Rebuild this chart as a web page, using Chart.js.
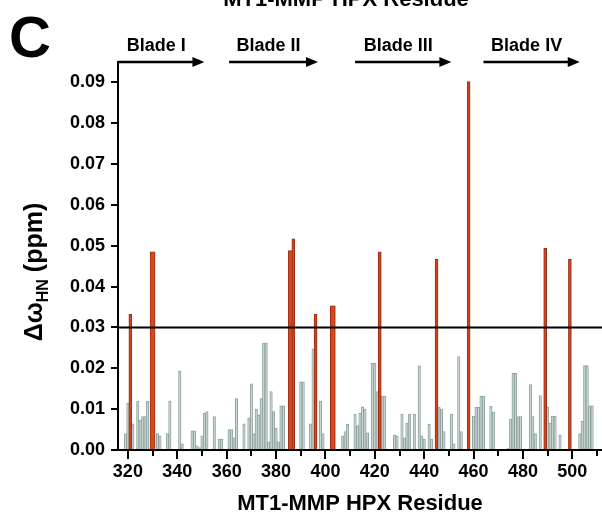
<!DOCTYPE html>
<html>
<head>
<meta charset="utf-8">
<script src="https://cdn.jsdelivr.net/npm/chart.js@4.4.0/dist/chart.umd.min.js"></script>
<style>
  html, body { margin: 0; padding: 0; background: #fff; }
</style>
</head>
<body>
<canvas id="myChart" width="602" height="523"></canvas>
<script>
// grey bars: residue number and shift (ppm)
const greyResidues = [319, 320, 322, 324, 325, 326, 327, 328, 332, 333, 336, 337, 341, 342, 346, 347, 348, 349, 350, 351, 352, 355, 357, 358,
    361, 362, 363, 364, 367, 369, 370, 371, 372, 373, 374, 375, 376, 377, 378, 379, 380, 381, 382, 383, 390, 391, 394, 395, 398, 399,
    407, 408, 409, 412, 413, 414, 415, 416, 417, 419, 420, 421, 423, 424, 428, 429, 431, 432, 433, 434, 436, 438, 439, 440, 442, 443,
    446, 447, 448, 451, 452, 454, 455, 460, 461, 462, 463, 464, 467, 468, 474, 475, 476, 477, 478, 479, 483, 484, 485, 487,
    490, 491, 492, 493, 495, 503, 504, 505, 506, 507, 508];
const greyShifts = [0.0040, 0.0115, 0.0064, 0.0120, 0.0073, 0.0082, 0.0082, 0.0120, 0.0040, 0.0035, 0.0040, 0.0120, 0.0194, 0.0015, 0.0047, 0.0047, 0.0010, 0.0006, 0.0035, 0.0090, 0.0094, 0.0082, 0.0027, 0.0027,
    0.0050, 0.0050, 0.0030, 0.0126, 0.0064, 0.0078, 0.0162, 0.0040, 0.0100, 0.0086, 0.0126, 0.0262, 0.0262, 0.0020, 0.0143, 0.0094, 0.0053, 0.0020, 0.0108, 0.0108, 0.0167, 0.0167, 0.0064, 0.0248, 0.0120, 0.0040,
    0.0035, 0.0045, 0.0063, 0.0088, 0.0060, 0.0090, 0.0106, 0.0100, 0.0042, 0.0212, 0.0212, 0.0143, 0.0132, 0.0132, 0.0037, 0.0035, 0.0088, 0.0030, 0.0065, 0.0088, 0.0088, 0.0206, 0.0035, 0.0027, 0.0063, 0.0027,
    0.0105, 0.0100, 0.0045, 0.0088, 0.0015, 0.0229, 0.0045, 0.0083, 0.0105, 0.0105, 0.0132, 0.0132, 0.0107, 0.0093, 0.0005, 0.0076, 0.0188, 0.0188, 0.0082, 0.0082, 0.0160, 0.0082, 0.0040, 0.0133,
    0.0106, 0.0065, 0.0083, 0.0083, 0.0037, 0.0040, 0.0070, 0.0207, 0.0207, 0.0108, 0.0108];

// red bars above the cutoff
const redThinResidues = [321, 387, 396, 422, 445, 458, 489, 499];
const redThinShifts = [0.0332, 0.0517, 0.0332, 0.0485, 0.0467, 0.0902, 0.0494, 0.0467];
const redWideResidues = [330, 386, 403];
const redWideShifts = [0.0485, 0.0488, 0.0353];

const cutoff = 0.03;
const xMin = 316, xMax = 512;
const xTicks = [320, 330, 340, 350, 360, 370, 380, 390, 400, 410, 420, 430, 440, 450, 460, 470, 480, 490, 500, 510];
const yTicks = [0, 0.01, 0.02, 0.03, 0.04, 0.05, 0.06, 0.07, 0.08, 0.09];

const bladeLabels = ['Blade I', 'Blade II', 'Blade III', 'Blade IV'];
const bladeStart = [316, 361, 412, 464];
const bladeEnd = [351, 397, 451, 503];

const FONT = 'Arial, "Liberation Sans", sans-serif';

function points(xs, ys) {
    return xs.map((x, i) => ({ x: x, y: ys[i] }));
}

// panel letter, blade arrows, axis title with subscript
const decorations = {
    id: 'decorations',
    afterDraw(chart) {
        const ctx = chart.ctx;
        const xs = chart.scales.x;
        const top = chart.chartArea.top;
        ctx.save();
        ctx.fillStyle = '#000';
        ctx.strokeStyle = '#000';

        // cut-off heading at the very top
        ctx.font = 'bold 22px ' + FONT;
        ctx.textAlign = 'center';
        ctx.textBaseline = 'alphabetic';
        ctx.fillText('MT1-MMP HPX Residue', 346, 6);

        ctx.font = 'bold 58px ' + FONT;
        ctx.textAlign = 'left';
        ctx.fillText('C', 9, 57);

        ctx.font = 'bold 18px ' + FONT;
        ctx.textAlign = 'center';
        ctx.lineWidth = 2.5;
        bladeLabels.forEach((lab, i) => {
            const x1 = xs.getPixelForValue(bladeStart[i]);
            const x2 = xs.getPixelForValue(bladeEnd[i]);
            ctx.fillText(lab, (x1 + x2) / 2 - 5, 51);
            ctx.beginPath();
            ctx.moveTo(x1, top);
            ctx.lineTo(x2 - 8, top);
            ctx.stroke();
            ctx.beginPath();
            ctx.moveTo(x2, top);
            ctx.lineTo(x2 - 12, top - 5);
            ctx.lineTo(x2 - 12, top + 5);
            ctx.closePath();
            ctx.fill();
        });

        // y title: Δω_HN (ppm)
        ctx.translate(34, 272);
        ctx.rotate(-Math.PI / 2);
        ctx.textAlign = 'left';
        const big = 'bold 25px ' + FONT, small = 'bold 16px ' + FONT;
        ctx.font = big;
        const w1 = ctx.measureText('\u0394\u03c9').width;
        const w3 = ctx.measureText(' (ppm)').width;
        ctx.font = small;
        const w2 = ctx.measureText('HN').width;
        let x = -(w1 + w2 + w3) / 2;
        ctx.font = big;
        ctx.fillText('\u0394\u03c9', x, 8);
        x += w1;
        ctx.font = small;
        ctx.fillText('HN', x, 14);
        x += w2;
        ctx.font = big;
        ctx.fillText(' (ppm)', x, 8);
        ctx.restore();
    }
};

const axisGrid = {
    display: true,
    drawOnChartArea: false,
    drawTicks: true,
    color: '#000',
    lineWidth: 2
};

new Chart(document.getElementById('myChart'), {
    type: 'bar',
    data: {
        datasets: [
            {
                type: 'line',
                data: [{ x: xMin, y: cutoff }, { x: xMax, y: cutoff }],
                borderColor: '#000',
                borderWidth: 2,
                pointRadius: 0,
                order: 0
            },
            {
                data: points(redThinResidues, redThinShifts),
                backgroundColor: '#cf4520',
                borderColor: '#9c2f16',
                borderWidth: 1,
                barThickness: 3,
                grouped: false,
                order: 1
            },
            {
                data: points(redWideResidues, redWideShifts),
                backgroundColor: '#d9491c',
                borderColor: '#9c2f16',
                borderWidth: 1,
                barThickness: 5,
                grouped: false,
                order: 2
            },
            {
                data: points(greyResidues, greyShifts),
                backgroundColor: '#c9d7d4',
                borderColor: '#8fa3a0',
                borderWidth: 1,
                barPercentage: 1,
                categoryPercentage: 1,
                grouped: false,
                order: 3
            }
        ]
    },
    options: {
        responsive: false,
        animation: false,
        devicePixelRatio: 1,
        layout: { padding: { top: 62, left: 0, right: 0, bottom: 0 } },
        plugins: {
            legend: { display: false },
            tooltip: { enabled: false }
        },
        scales: {
            x: {
                type: 'linear',
                min: xMin,
                max: xMax,
                offset: false,
                z: 1,
                afterFit: s => { s.height = 73; },
                afterBuildTicks: s => { s.ticks = xTicks.map(v => ({ value: v })); },
                grid: Object.assign({}, axisGrid, {
                    offset: false,
                    tickLength: 9,
                    tickBorderDash: c => (c.tick && c.tick.value % 20 !== 0) ? [5, 30] : []
                }),
                border: { display: true, color: '#000', width: 2 },
                ticks: {
                    autoSkip: false,
                    maxRotation: 0,
                    padding: 2,
                    color: '#000',
                    font: { family: FONT, size: 18, weight: 'bold' },
                    callback: v => (v % 20 === 0 ? String(v) : '')
                },
                title: {
                    display: true,
                    text: 'MT1-MMP HPX Residue',
                    color: '#000',
                    font: { family: FONT, size: 22, weight: 'bold' },
                    padding: { top: 0, bottom: 6 }
                }
            },
            y: {
                min: 0,
                max: 0.095,
                z: 1,
                afterFit: s => { s.width = 118; },
                afterBuildTicks: s => { s.ticks = yTicks.map(v => ({ value: v })); },
                grid: Object.assign({}, axisGrid, { tickLength: 7 }),
                border: { display: true, color: '#000', width: 2 },
                ticks: {
                    padding: 6,
                    color: '#000',
                    font: { family: FONT, size: 18, weight: 'bold' },
                    callback: v => v.toFixed(2)
                }
            }
        }
    },
    plugins: [decorations]
});
</script>
</body>
</html>
